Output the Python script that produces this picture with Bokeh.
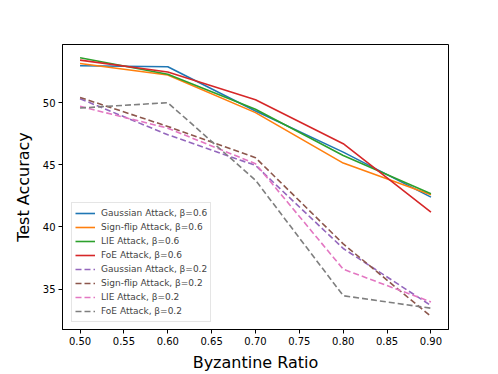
from bokeh.plotting import figure
from bokeh.models import Range1d, FixedTicker, Legend, LegendItem, NumeralTickFormatter
from bokeh.embed import file_html
from bokeh.resources import INLINE

ratios = [0.5, 0.6, 0.7, 0.8, 0.9]
gauss_06 = [52.97, 52.89, 49.33, 46.02, 42.40]
signflip_06 = [53.15, 52.23, 49.20, 45.14, 42.60]
lie_06 = [53.61, 52.28, 49.47, 45.75, 42.67]
foe_06 = [53.42, 52.47, 50.24, 46.70, 41.20]
gauss_02 = [50.32, 47.42, 44.95, 38.27, 33.68]
signflip_02 = [50.42, 48.09, 45.57, 38.64, 32.80]
lie_02 = [49.70, 47.95, 45.09, 36.60, 33.97]
foe_02 = [49.57, 50.00, 43.76, 34.47, 33.46]

series = [
    ("Gaussian Attack, β=0.6", gauss_06, "#1f77b4", "solid"),
    ("Sign-flip Attack, β=0.6", signflip_06, "#ff7f0e", "solid"),
    ("LIE Attack, β=0.6", lie_06, "#2ca02c", "solid"),
    ("FoE Attack, β=0.6", foe_06, "#d62728", "solid"),
    ("Gaussian Attack, β=0.2", gauss_02, "#9467bd", "6 3"),
    ("Sign-flip Attack, β=0.2", signflip_02, "#8c564b", "6 3"),
    ("LIE Attack, β=0.2", lie_02, "#e377c2", "6 3"),
    ("FoE Attack, β=0.2", foe_02, "#7f7f7f", "6 3"),
]

x_ticks = [0.5, 0.55, 0.6, 0.65, 0.7, 0.75, 0.8, 0.85, 0.9]
y_ticks = [35, 40, 45, 50]

FONT = "DejaVu Sans"

p = figure(width=498, height=374, output_backend="svg", toolbar_location=None,
           x_range=Range1d(0.48, 0.92), y_range=Range1d(31.75, 54.68),
           min_border_left=62, min_border_right=50, min_border_top=44, min_border_bottom=41)
p.xgrid.visible = False
p.ygrid.visible = False
p.outline_line_color = "black"
p.outline_line_width = 1
p.background_fill_color = "white"
p.border_fill_color = "white"

items = []
for label, ys, color, dash in series:
    r = p.line(ratios, ys, line_color=color, line_width=1.6, line_dash=dash)
    items.append(LegendItem(label=label, renderers=[r]))

p.xaxis.ticker = FixedTicker(ticks=x_ticks)
p.yaxis.ticker = FixedTicker(ticks=y_ticks)
p.xaxis.formatter = NumeralTickFormatter(format="0.00")
p.yaxis.formatter = NumeralTickFormatter(format="0")
for ax in (p.xaxis[0], p.yaxis[0]):
    ax.minor_tick_line_color = None
    ax.major_tick_in = 0
    ax.major_tick_out = 4
    ax.major_tick_line_color = "black"
    ax.axis_line_color = "black"
    ax.major_label_text_font = FONT
    ax.major_label_text_font_size = "10px"
    ax.major_label_text_color = "black"
    ax.axis_label_text_font = FONT
    ax.axis_label_text_font_size = "16px"
    ax.axis_label_text_font_style = "normal"
    ax.axis_label_text_color = "black"
    ax.major_label_standoff = 3
    ax.axis_label_standoff = 5
p.xaxis.axis_label = "Byzantine Ratio"
p.yaxis.axis_label = "Test Accuracy"
p.yaxis.axis_label_standoff = 7

legend = Legend(items=items, location=(9, 7), margin=0, padding=3, spacing=0,
                glyph_width=20, glyph_height=14, label_height=14, label_standoff=6,
                label_text_font=FONT, label_text_font_size="9px",
                border_line_color="#cccccc", border_line_width=1,
                background_fill_color="white", background_fill_alpha=0.8)
p.add_layout(legend)

open("out.html", "w").write(file_html(p, INLINE))
